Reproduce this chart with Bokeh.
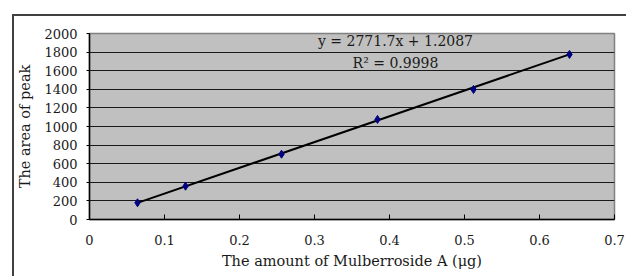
from bokeh.plotting import figure
from bokeh.models import FixedTicker, Label
from bokeh.embed import file_html
from bokeh.resources import INLINE

# Data
amount_ug = [0.064, 0.128, 0.256, 0.384, 0.512, 0.64]
peak_area = [180, 358, 702, 1076, 1398, 1775]
slope = 2771.7
intercept = 1.2087
r_squared = 0.9998
x_ticks = [0, 0.1, 0.2, 0.3, 0.4, 0.5, 0.6, 0.7]
y_ticks = [0, 200, 400, 600, 800, 1000, 1200, 1400, 1600, 1800, 2000]

FONT = "DejaVu Serif"

p = figure(width=614, height=262, output_backend="svg", toolbar_location=None,
           x_range=(0, 0.7), y_range=(0, 2000),
           min_border_left=75, min_border_top=17, min_border_right=14, min_border_bottom=59)

p.styles = {"margin-left": "12px", "margin-top": "14px",
            "border-left": "2px solid #404040", "border-top": "2px solid #404040"}

p.background_fill_color = "#c0c0c0"
p.border_fill_color = "white"
p.outline_line_color = "#808080"
p.outline_line_width = 1.5

# grid
p.xgrid.grid_line_color = None
p.ygrid.grid_line_color = "#1a1a1a"
p.ygrid.grid_line_width = 1
p.ygrid.ticker = FixedTicker(ticks=y_ticks)

# axes
p.xaxis.ticker = FixedTicker(ticks=x_ticks)
p.yaxis.ticker = FixedTicker(ticks=y_ticks)
p.xaxis.major_label_overrides = {0: "0"}
for ax in (p.xaxis, p.yaxis):
    ax.minor_tick_line_color = None
    ax.axis_line_color = "black"
    ax.axis_line_width = 1.5
    ax.major_tick_line_color = "black"
    ax.major_label_text_font = FONT
    ax.major_label_text_font_size = "13px"
    ax.major_label_text_color = "#1a1a1a"
    ax.axis_label_text_font = FONT
    ax.axis_label_text_font_size = "14.5px"
    ax.axis_label_text_font_style = "normal"
    ax.axis_label_text_color = "#1a1a1a"

p.xaxis.major_tick_in = 5
p.xaxis.major_tick_out = 0
p.xaxis.major_label_standoff = 15
p.xaxis.axis_label = "The amount of Mulberroside A (μg)"
p.xaxis.axis_label_standoff = 5

p.yaxis.major_tick_in = 0
p.yaxis.major_tick_out = 3
p.yaxis.major_label_standoff = 9
p.yaxis.axis_label = "The area of peak"
p.yaxis.axis_label_standoff = 8

# trendline
x0, x1 = min(amount_ug), max(amount_ug)
p.line([x0, x1], [slope * x0 + intercept, slope * x1 + intercept],
       line_color="black", line_width=2)

# points
p.scatter(amount_ug, peak_area, marker="diamond", size=8,
          fill_color="#000080", line_color="#000080")

# equation
p.add_layout(Label(x=0.408, y=1914, text=f"y = {slope}x + {intercept}",
                   text_font=FONT, text_font_size="14px", text_color="#1a1a1a",
                   text_align="center", text_baseline="middle"))
p.add_layout(Label(x=0.408, y=1680, text=f"R² = {r_squared}",
                   text_font=FONT, text_font_size="14px", text_color="#1a1a1a",
                   text_align="center", text_baseline="middle"))

open("out.html", "w").write(file_html(p, INLINE))
